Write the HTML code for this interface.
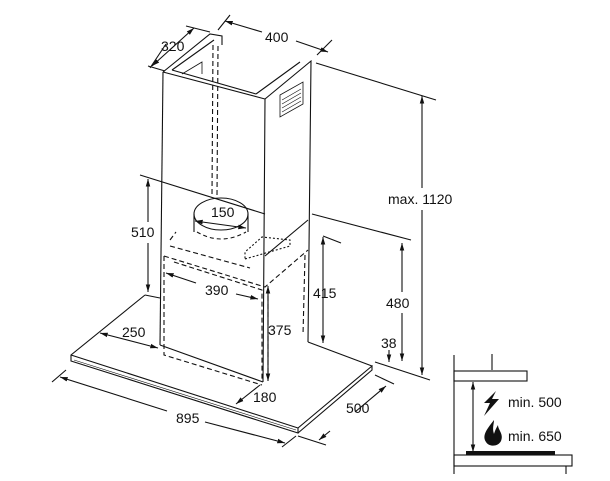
<!DOCTYPE html>
<html><head><meta charset="utf-8"><style>
html,body{margin:0;padding:0;background:#fff;width:610px;height:481px;overflow:hidden}
svg{display:block}
text{font-family:"Liberation Sans",Arial,sans-serif;font-size:14px;fill:#111}
</style></head><body>
<svg width="610" height="481" viewBox="0 0 610 481" xmlns="http://www.w3.org/2000/svg">
<defs>
<marker id="a" viewBox="0 0 10 10" refX="10" refY="5" markerWidth="7" markerHeight="7" orient="auto-start-reverse"><path d="M0,2 L10,5 L0,8 z" fill="#111"/></marker>
</defs>
<g stroke="#111" stroke-width="1.1" fill="none">
<!-- chimney -->
<path d="M163,72 L265,99 L263,382"/>
<path d="M163,72 L160,345"/>
<path d="M265,99 L311,61 L308,342"/>
<path d="M163,72 L210,34 L222,36 L222,45"/>
<path d="M172,70 L214,40"/>
<path d="M172,70 L256,94"/>
<path d="M256,94 L300,62"/>
<path d="M182,74 L202,62 L202,74" stroke-width="0.8"/>
<path d="M280,95 L303,82 L303,104 L280,117 z" stroke-width="0.8"/>
<path d="M282,100 L301,89 M282,104 L301,93 M282,108 L301,97 M282,112 L301,101" stroke-width="0.6"/>
<!-- duct dashed -->
<path d="M213,45 L212,195 M218,46 L217,196" stroke-dasharray="5,3"/>
<!-- canopy glass -->
<path d="M145,295 L71,355 L71,361 L298,433 L298,428 L71,355"/>
<path d="M298,428 L372,366 L372,370 L298,433"/>
<path d="M145,295 L160,298"/>
<path d="M308,342 L372,366"/>
<path d="M74,360 L296,430" stroke-width="0.6"/>
<path d="M160,345 L263,382"/>
<!-- outlet -->
<ellipse cx="221" cy="214" rx="27" ry="16"/>
<path d="M194,214 L194,232 M248,214 L248,232"/>
<path d="M197,232 Q221,246 246,232" stroke-dasharray="4,3"/>
<!-- dashed internal -->
<g stroke-dasharray="5,3">
<path d="M164,256 L265,287 L308,250"/>
<path d="M164,256 L164,355 L262,385"/>
<path d="M174,262 L262,290 L262,380"/>
<path d="M170,246 L250,268"/>
<path d="M268,296 L268,380"/>
<path d="M305,255 L303,335"/>
<path d="M170,240 L176,232"/>
</g>
<path d="M245,259 L290,246 L290,240 L262,237 L245,252 z" stroke-dasharray="2,2"/>
<path d="M265,256 L308,220"/>
<path d="M140,175 L265,214"/>
<!-- dimension lines -->
<path d="M150,68 L166,44 M148,66 L165,71"/>
<line x1="152" y1="66" x2="194" y2="28" marker-start="url(#a)" marker-end="url(#a)"/>
<path d="M186,26 L210,32"/>
<path d="M218,30 L230,15 M317,55 L332,40"/>
<line x1="225" y1="21" x2="262" y2="32" marker-start="url(#a)"/>
<line x1="296" y1="41" x2="328" y2="52" marker-end="url(#a)"/>
<path d="M316,63 L436,100"/>
<line x1="422" y1="96" x2="422" y2="188" marker-start="url(#a)"/>
<line x1="422" y1="210" x2="422" y2="375" marker-end="url(#a)"/>
<path d="M312,214 L411,240"/>
<line x1="402" y1="243" x2="402" y2="292" marker-start="url(#a)"/>
<line x1="402" y1="313" x2="402" y2="361" marker-end="url(#a)"/>
<path d="M375,362 L430,380"/>
<line x1="389" y1="350" x2="389" y2="362" marker-end="url(#a)"/>
<path d="M323,236 L341,243"/>
<line x1="323" y1="237" x2="323" y2="343" marker-start="url(#a)" marker-end="url(#a)"/>
<line x1="148" y1="179" x2="148" y2="222" marker-start="url(#a)"/>
<line x1="148" y1="243" x2="148" y2="292" marker-end="url(#a)"/>
<line x1="166" y1="273" x2="196" y2="283" marker-start="url(#a)"/>
<line x1="236" y1="294" x2="258" y2="299" marker-end="url(#a)"/>
<line x1="268" y1="286" x2="268" y2="381" marker-start="url(#a)" marker-end="url(#a)"/>
<line x1="100" y1="333" x2="158" y2="348" marker-start="url(#a)" marker-end="url(#a)"/>
<line x1="236" y1="404" x2="260" y2="385" marker-start="url(#a)"/>
<line x1="195" y1="221" x2="246" y2="228" marker-start="url(#a)" marker-end="url(#a)"/>
<path d="M52,382 L66,370 M282,447 L296,436"/>
<line x1="60" y1="377" x2="167" y2="411" marker-start="url(#a)"/>
<line x1="205" y1="422" x2="285" y2="443" marker-end="url(#a)"/>
<path d="M375,375 L394,384 M298,436 L326,445"/>
<line x1="319" y1="440" x2="330" y2="431" marker-start="url(#a)"/>
<line x1="355" y1="412" x2="386" y2="386" marker-end="url(#a)"/>
<!-- inset -->
<path d="M454,355 L454,474 M492,354 L492,370 M566,466 L566,474"/>
<rect x="454" y="371" width="73" height="10"/>
<rect x="454" y="455" width="118" height="11"/>
<line x1="473" y1="382" x2="473" y2="452" marker-start="url(#a)" marker-end="url(#a)"/>
</g>
<rect x="466" y="451" width="89" height="4" fill="#111"/>
<path d="M496,391 L484,403 L490,403 L484,416 L499,399 L492,399 z" fill="#111"/>
<path d="M494,420 C486,430 482,436 486,442 C489,447 498,447 501,441 C504,434 498,430 498,425 C495,430 494,434 494,434 C492,428 494,424 494,420 z" fill="#111"/>
<text x="265" y="42">400</text>
<text x="161" y="51">320</text>
<text x="388" y="204">max. 1120</text>
<text x="211" y="217">150</text>
<text x="131" y="237">510</text>
<text x="386" y="308">480</text>
<text x="381" y="348">38</text>
<text x="313" y="298">415</text>
<text x="205" y="295">390</text>
<text x="268" y="335">375</text>
<text x="122" y="337">250</text>
<text x="253" y="402">180</text>
<text x="176" y="423">895</text>
<text x="346" y="413">500</text>
<text x="508" y="407">min. 500</text>
<text x="508" y="441">min. 650</text>
</svg>
</body></html>
